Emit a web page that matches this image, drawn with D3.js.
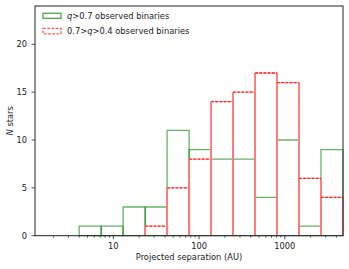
<!DOCTYPE html>
<html><head><meta charset="utf-8">
<script src="https://cdn.jsdelivr.net/npm/d3@7"></script>
<style>
html,body{margin:0;padding:0;background:#fff;}
svg{display:block;font-family:"DejaVu Sans",sans-serif;}
</style></head>
<body><svg id="c" width="349" height="269"></svg>
<script>
// bin edges (AU), log-spaced
const binEdges = [4.0, 7.21, 13.0, 23.5, 42.4, 76.6, 138, 249, 450, 812, 1465, 2643, 4775];
const countsHigh = [1, 1, 3, 3, 11, 9, 8, 8, 4, 10, 1, 9];      // q>0.7
const countsMid  = [0, 0, 0, 1, 5, 8, 14, 15, 17, 16, 6, 4];     // 0.7>q>0.4
const xTicks = [10, 100, 1000];
const yTicks = [0, 5, 10, 15, 20];
const legendLabels = ["q>0.7 observed binaries", "0.7>q>0.4 observed binaries"];

const svg = d3.select("#c");
const L = 35, R = 343, T = 6, B = 235.7;
const x = d3.scaleLog().domain([1.22, 4775]).range([L, R]);
const y = d3.scaleLinear().domain([0, 24]).range([B, T]);
const fs = 8.3;

const gGreen = svg.append("g");
const gRed = svg.append("g");

// green bars (solid)
countsHigh.forEach((c, i) => {
  if (c <= 0) return;
  const x0 = x(binEdges[i]), x1 = x(binEdges[i+1]);
  gGreen.append("path")
    .attr("d", `M${x0},${y(0)}L${x1},${y(0)}L${x1},${y(c)}L${x0},${y(c)}Z`)
    .attr("fill", "none").attr("stroke", "rgb(0,128,0)").attr("stroke-opacity", 0.6)
    .attr("stroke-width", 1.3);
});

// red bars (dashed)
countsMid.forEach((c, i) => {
  if (c <= 0) return;
  const x0 = x(binEdges[i]), x1 = x(binEdges[i+1]);
  [x0, x1].forEach(xx => {
    gRed.append("line").attr("x1", xx).attr("x2", xx).attr("y1", y(0)).attr("y2", y(c))
      .attr("stroke", "#ff7b7b").attr("stroke-width", 1.9);
  });
  gRed.append("line").attr("x1", x0).attr("x2", x1).attr("y1", y(c)).attr("y2", y(c))
    .attr("stroke", "#ffb5b5").attr("stroke-width", 1.3);
  gRed.append("line").attr("x1", x0).attr("x2", x1).attr("y1", y(c)).attr("y2", y(c))
    .attr("stroke", "#ff2020").attr("stroke-width", 1.3).attr("stroke-dasharray", "2.8,1.4");
});

// axes frame
svg.append("rect").attr("x", L).attr("y", T).attr("width", R - L).attr("height", B - T)
  .attr("fill", "none").attr("stroke", "#222").attr("stroke-width", 1);

// x ticks
const minor = [];
for (let d = 1; d <= 1000; d *= 10) for (let m = 1; m < 10; m++) {
  const v = d * m;
  if (v >= 1.22 && v <= 4775 && !xTicks.includes(v)) minor.push(v);
}
const ax = svg.append("g");
minor.forEach(v => ax.append("line").attr("x1", x(v)).attr("x2", x(v)).attr("y1", B).attr("y2", B + 2)
  .attr("stroke", "#222").attr("stroke-width", 0.7));
xTicks.forEach(v => {
  ax.append("line").attr("x1", x(v)).attr("x2", x(v)).attr("y1", B).attr("y2", B + 3.5)
    .attr("stroke", "#222").attr("stroke-width", 0.8);
  ax.append("text").attr("x", x(v)).attr("y", B + 12.8).attr("text-anchor", "middle")
    .attr("font-size", fs).attr("fill", "#222").text(v);
});
yTicks.forEach(v => {
  ax.append("line").attr("x1", L).attr("x2", L - 3.5).attr("y1", y(v)).attr("y2", y(v))
    .attr("stroke", "#222").attr("stroke-width", 0.8);
  ax.append("text").attr("x", L - 8).attr("y", y(v) + 3).attr("text-anchor", "end")
    .attr("font-size", fs).attr("fill", "#222").text(v);
});

// axis labels
svg.append("text").attr("x", (L + R) / 2).attr("y", 260).attr("text-anchor", "middle")
  .attr("font-size", fs).attr("fill", "#222").text("Projected separation (AU)");
const yl = svg.append("text").attr("transform", `translate(13,${(T + B) / 2}) rotate(-90)`)
  .attr("text-anchor", "middle").attr("font-size", fs).attr("fill", "#222");
yl.append("tspan").attr("font-style", "italic").text("N");
yl.append("tspan").text(" stars");

// legend
const lg = svg.append("g");
lg.append("rect").attr("x", 43).attr("y", 13.3).attr("width", 18).attr("height", 5)
  .attr("fill", "none").attr("stroke", "rgb(0,128,0)").attr("stroke-opacity", 0.7).attr("stroke-width", 1.3);
lg.append("rect").attr("x", 43).attr("y", 28.3).attr("width", 18).attr("height", 5.5)
  .attr("fill", "none").attr("stroke", "#ff3030").attr("stroke-opacity", 0.8).attr("stroke-width", 1.3)
  .attr("stroke-dasharray", "2.8,1.4");
function legText(yy, s) {
  const t = lg.append("text").attr("x", 67).attr("y", yy).attr("font-size", fs).attr("fill", "#222");
  const parts = s.split("q");
  parts.forEach((p, i) => {
    if (i > 0) t.append("tspan").attr("font-style", "italic").text("q");
    t.append("tspan").text(p);
  });
}
legText(19, legendLabels[0]);
legText(34, legendLabels[1]);
</script></body></html>
